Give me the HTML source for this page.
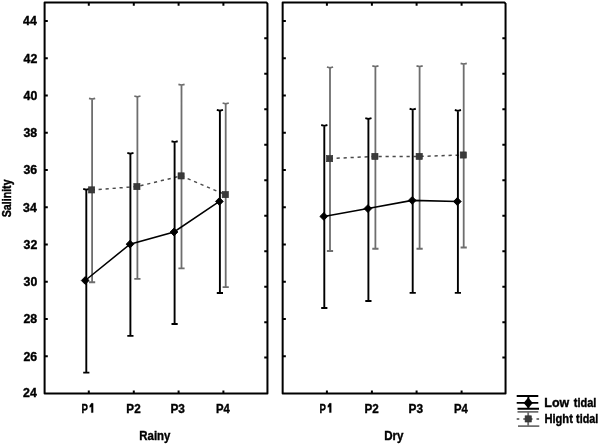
<!DOCTYPE html><html><head><meta charset="utf-8"><style>html,body{margin:0;padding:0;background:#fff;}svg{display:block;filter:grayscale(1);}text{font-family:"Liberation Sans", sans-serif;font-weight:bold;stroke:#000;stroke-width:0.4px;font-kerning:none;}</style></head><body>
<svg width="600" height="445" viewBox="0 0 600 445">
<rect width="600" height="445" fill="#fff"/>
<g>
<rect width="600" height="445" fill="#fff"/>
<path d="M44.6 393.6V2.5H266.35L267.45 3.60V393.6Z" fill="none" stroke="#000" stroke-width="2.0" stroke-linejoin="round"/>
<path d="M44.60 356.34h3.2 M44.60 319.08h3.2 M44.60 281.82h3.2 M44.60 244.56h3.2 M44.60 207.30h3.2 M44.60 170.04h3.2 M44.60 132.78h3.2 M44.60 95.52h3.2 M44.60 58.26h3.2 M44.60 21.00h3.2 M267.45 38.30h-3.2 M267.45 73.78h-3.2 M267.45 109.26h-3.2 M267.45 144.74h-3.2 M267.45 180.22h-3.2 M267.45 215.70h-3.2 M267.45 251.18h-3.2 M267.45 286.66h-3.2 M267.45 322.14h-3.2 M267.45 357.62h-3.2 M88.80 2.50v3.2 M88.80 393.60v-3.2 M133.80 2.50v3.2 M133.80 393.60v-3.2 M178.60 2.50v3.2 M178.60 393.60v-3.2 M223.40 2.50v3.2 M223.40 393.60v-3.2" stroke="#000" stroke-width="2.0" fill="none"/>
<path d="M92.1 98.7V282.0M89.0 98.30L92.1 99.10L95.19999999999999 98.30M89.0 282.25h6.2M137.4 96.4V278.6M134.3 96.00L137.4 96.80L140.5 96.00M134.3 278.85h6.2M181.5 84.75V268.1M178.4 84.35L181.5 85.15L184.6 84.35M178.4 268.35h6.2M225.7 103.4V286.8M222.6 103.00L225.7 103.80L228.79999999999998 103.00M222.6 287.05h6.2" stroke="#6e6e6e" stroke-width="1.8" fill="none"/>
<polyline points="91.6,189.9 136.9,186.6 181.1,175.9 225.3,194.6" stroke="#4a4a4a" stroke-width="1.5" fill="none" stroke-dasharray="3.2 3.8"/>
<path d="M86.3 189.25V372.4M83.2 188.85L86.3 189.65L89.39999999999999 188.85M83.2 372.65h6.2M130.4 153.25V335.6M127.30000000000001 152.85L130.4 153.65L133.5 152.85M127.30000000000001 335.85h6.2M174.6 141.65V323.8M171.5 141.25L174.6 142.05L177.7 141.25M171.5 324.05h6.2M219.9 110.25V292.7M216.8 109.85L219.9 110.65L223.0 109.85M216.8 292.95h6.2" stroke="#000" stroke-width="1.9" fill="none"/>
<polyline points="85.2,280.5 130.0,244.2 174.0,232.0 219.4,201.4" stroke="#000" stroke-width="1.55" fill="none"/>
<rect x="88.50" y="186.80" width="6.2" height="6.2" fill="#3a3a3a" stroke="#2e2e2e" stroke-width="0.6"/>
<rect x="133.80" y="183.50" width="6.2" height="6.2" fill="#3a3a3a" stroke="#2e2e2e" stroke-width="0.6"/>
<rect x="178.00" y="172.80" width="6.2" height="6.2" fill="#3a3a3a" stroke="#2e2e2e" stroke-width="0.6"/>
<rect x="222.20" y="191.50" width="6.2" height="6.2" fill="#3a3a3a" stroke="#2e2e2e" stroke-width="0.6"/>
<path d="M81.30 280.50L85.20 276.60L89.10 280.50L85.20 284.40Z" fill="#000" stroke="#000" stroke-width="0.9" stroke-linejoin="round"/>
<path d="M126.10 244.20L130.00 240.30L133.90 244.20L130.00 248.10Z" fill="#000" stroke="#000" stroke-width="0.9" stroke-linejoin="round"/>
<path d="M170.10 232.00L174.00 228.10L177.90 232.00L174.00 235.90Z" fill="#000" stroke="#000" stroke-width="0.9" stroke-linejoin="round"/>
<path d="M215.50 201.40L219.40 197.50L223.30 201.40L219.40 205.30Z" fill="#000" stroke="#000" stroke-width="0.9" stroke-linejoin="round"/>
<text transform="translate(81.41,412.55) scale(0.720,1)" font-size="13.37">P</text>
<path d="M91.35 403.35H93.10V412.55H91.35V406.66L89.75 407.31V405.83Z" fill="#000" stroke="#000" stroke-width="0.4"/>
<text transform="translate(126.37,412.55) scale(0.859,1)" font-size="13.56">P2</text>
<text transform="translate(170.46,412.65) scale(0.872,1)" font-size="13.57">P3</text>
<text transform="translate(215.89,412.55) scale(0.836,1)" font-size="13.52">P4</text>
<path d="M282.65 393.6V2.5H504.45L505.55 3.60V393.6Z" fill="none" stroke="#000" stroke-width="2.0" stroke-linejoin="round"/>
<path d="M282.65 356.34h3.2 M282.65 319.08h3.2 M282.65 281.82h3.2 M282.65 244.56h3.2 M282.65 207.30h3.2 M282.65 170.04h3.2 M282.65 132.78h3.2 M282.65 95.52h3.2 M282.65 58.26h3.2 M282.65 21.00h3.2 M505.55 38.30h-3.2 M505.55 73.78h-3.2 M505.55 109.26h-3.2 M505.55 144.74h-3.2 M505.55 180.22h-3.2 M505.55 215.70h-3.2 M505.55 251.18h-3.2 M505.55 286.66h-3.2 M505.55 322.14h-3.2 M505.55 357.62h-3.2 M326.90 2.50v3.2 M326.90 393.60v-3.2 M371.90 2.50v3.2 M371.90 393.60v-3.2 M416.60 2.50v3.2 M416.60 393.60v-3.2 M461.60 2.50v3.2 M461.60 393.60v-3.2" stroke="#000" stroke-width="2.0" fill="none"/>
<path d="M330.0 67.4V250.75M326.9 67.00L330.0 67.80L333.1 67.00M326.9 251.00h6.2M375.4 66.25V248.5M372.29999999999995 65.85L375.4 66.65L378.5 65.85M372.29999999999995 248.75h6.2M419.6 66.25V248.5M416.5 65.85L419.6 66.65L422.70000000000005 65.85M416.5 248.75h6.2M463.7 63.75V247.25M460.59999999999997 63.35L463.7 64.15L466.8 63.35M460.59999999999997 247.50h6.2" stroke="#6e6e6e" stroke-width="1.8" fill="none"/>
<polyline points="329.6,158.6 374.9,156.4 419.2,156.4 463.3,155.0" stroke="#4a4a4a" stroke-width="1.5" fill="none" stroke-dasharray="3.2 3.8"/>
<path d="M324.3 125.4V307.8M321.2 125.00L324.3 125.80L327.40000000000003 125.00M321.2 308.05h6.2M368.4 118.5V300.75M365.29999999999995 118.10L368.4 118.90L371.5 118.10M365.29999999999995 301.00h6.2M412.7 109.15V292.65M409.59999999999997 108.75L412.7 109.55L415.8 108.75M409.59999999999997 292.90h6.2M457.9 110.4V292.65M454.79999999999995 110.00L457.9 110.80L461.0 110.00M454.79999999999995 292.90h6.2" stroke="#000" stroke-width="1.9" fill="none"/>
<polyline points="323.8,216.4 367.9,208.6 412.2,200.4 457.3,201.5" stroke="#000" stroke-width="1.55" fill="none"/>
<rect x="326.50" y="155.50" width="6.2" height="6.2" fill="#3a3a3a" stroke="#2e2e2e" stroke-width="0.6"/>
<rect x="371.80" y="153.30" width="6.2" height="6.2" fill="#3a3a3a" stroke="#2e2e2e" stroke-width="0.6"/>
<rect x="416.10" y="153.30" width="6.2" height="6.2" fill="#3a3a3a" stroke="#2e2e2e" stroke-width="0.6"/>
<rect x="460.20" y="151.90" width="6.2" height="6.2" fill="#3a3a3a" stroke="#2e2e2e" stroke-width="0.6"/>
<path d="M319.90 216.40L323.80 212.50L327.70 216.40L323.80 220.30Z" fill="#000" stroke="#000" stroke-width="0.9" stroke-linejoin="round"/>
<path d="M364.00 208.60L367.90 204.70L371.80 208.60L367.90 212.50Z" fill="#000" stroke="#000" stroke-width="0.9" stroke-linejoin="round"/>
<path d="M408.30 200.40L412.20 196.50L416.10 200.40L412.20 204.30Z" fill="#000" stroke="#000" stroke-width="0.9" stroke-linejoin="round"/>
<path d="M453.40 201.50L457.30 197.60L461.20 201.50L457.30 205.40Z" fill="#000" stroke="#000" stroke-width="0.9" stroke-linejoin="round"/>
<text transform="translate(319.51,412.55) scale(0.720,1)" font-size="13.37">P</text>
<path d="M329.45 403.35H331.20V412.55H329.45V406.66L327.85 407.31V405.83Z" fill="#000" stroke="#000" stroke-width="0.4"/>
<text transform="translate(364.47,412.55) scale(0.859,1)" font-size="13.56">P2</text>
<text transform="translate(408.56,412.65) scale(0.872,1)" font-size="13.57">P3</text>
<text transform="translate(453.99,412.55) scale(0.836,1)" font-size="13.52">P4</text>
<text transform="translate(139.29,440.35) scale(0.884,1)" font-size="12.94">Rainy</text>
<text transform="translate(384.22,440.25) scale(0.887,1)" font-size="13.08">Dry</text>
<text transform="translate(23.12,397.40) scale(0.94,1)" font-size="13.1">24</text>
<text transform="translate(23.50,360.59) scale(0.94,1)" font-size="13.1">26</text>
<text transform="translate(23.43,323.33) scale(0.94,1)" font-size="13.1">28</text>
<text transform="translate(23.56,286.07) scale(0.94,1)" font-size="13.1">30</text>
<text transform="translate(23.55,248.81) scale(0.94,1)" font-size="13.1">32</text>
<text transform="translate(23.12,211.55) scale(0.94,1)" font-size="13.1">34</text>
<text transform="translate(23.50,174.29) scale(0.94,1)" font-size="13.1">36</text>
<text transform="translate(23.43,137.03) scale(0.94,1)" font-size="13.1">38</text>
<text transform="translate(23.56,99.77) scale(0.94,1)" font-size="13.1">40</text>
<text transform="translate(23.55,62.51) scale(0.94,1)" font-size="13.1">42</text>
<text transform="translate(23.12,25.25) scale(0.94,1)" font-size="13.1">44</text>
<text transform="translate(10.85,217.26) rotate(-90) scale(0.862,1)" font-size="12.35">Salinity</text>
<path d="M516.7 396H538.3M516.7 402.9H538.3M517.5 408.7H539M528.4 396V408.7" stroke="#000" stroke-width="1.9" fill="none"/>
<path d="M528.2 397.6L532.8 402.9L528.2 408.2L523.6 402.9Z" fill="#000"/>
<path d="M517.5 411.8H538.3M518 426.2H539.3M528.2 411.8V426.2" stroke="#6e6e6e" stroke-width="1.8" fill="none"/>
<path d="M516.7 418.9H539.3" stroke="#4a4a4a" stroke-width="1.5" stroke-dasharray="2.6 4" fill="none"/>
<rect x="525.1" y="415.8" width="6.2" height="6.2" fill="#3a3a3a" stroke="#2e2e2e" stroke-width="0.6"/>
<text transform="translate(544.32,406.75) scale(0.966,1)" font-size="12.90">Low</text>
<text transform="translate(573.82,406.75) scale(0.853,1)" font-size="12.90">tidal</text>
<text transform="translate(544.40,422.55) scale(0.864,1)" font-size="12.90">Hight</text>
<text transform="translate(576.12,422.55) scale(0.837,1)" font-size="12.90">tidal</text>
</g>
</svg></body></html>
